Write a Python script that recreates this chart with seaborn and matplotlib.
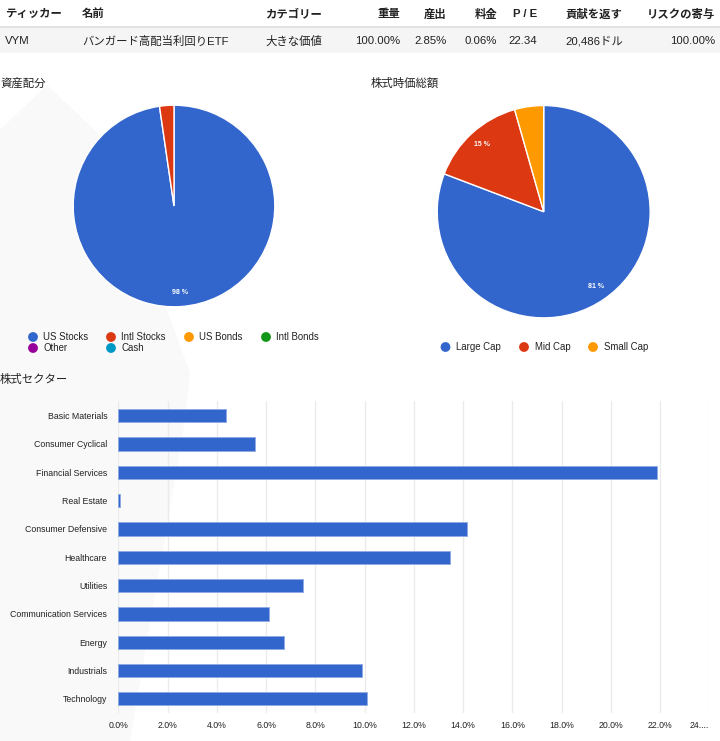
import matplotlib
matplotlib.use('Agg')
import matplotlib.pyplot as plt
import seaborn as sns
import pandas as pd
from matplotlib.patches import Polygon, Rectangle

W, H = 720, 741

# ---------------- data ----------------
table_headers = ['ティッカー', '名前', 'カテゴリー', '重量', '産出', '料金', 'P / E', '貢献を返す', 'リスクの寄与']
table_row = ['VYM', 'バンガード高配当利回りETF', '大きな価値', '100.00%', '2.85%', '0.06%', '22.34', '20,486ドル', '100.00%']

asset_title = '資産配分'
asset_labels = ['US Stocks', 'Intl Stocks', 'US Bonds', 'Intl Bonds', 'Other', 'Cash']
asset_values = [97.7, 2.3, 0.0, 0.0, 0.0, 0.0]
asset_colors = ['#3366cc', '#dc3912', '#ff9900', '#109618', '#990099', '#0099c6']

cap_title = '株式時価総額'
cap_labels = ['Large Cap', 'Mid Cap', 'Small Cap']
cap_values = [80.8, 14.8, 4.4]
cap_colors = ['#3366cc', '#dc3912', '#ff9900']

sector_title = '株式セクター'
sector_names = ['Basic Materials', 'Consumer Cyclical', 'Financial Services', 'Real Estate',
                'Consumer Defensive', 'Healthcare', 'Utilities', 'Communication Services',
                'Energy', 'Industrials', 'Technology']
sector_values = [4.39, 5.57, 21.87, 0.05, 14.15, 13.45, 7.52, 6.13, 6.71, 9.90, 10.09]
x_ticks = [0, 2, 4, 6, 8, 10, 12, 14, 16, 18, 20, 22, 24]
x_tick_labels = ['0.0%', '2.0%', '4.0%', '6.0%', '8.0%', '10.0%', '12.0%', '14.0%',
                 '16.0%', '18.0%', '20.0%', '22.0%', '24....']

# ---------------- style ----------------
sns.set_theme(style='white')
plt.rcParams['font.family'] = ['Liberation Sans', 'Noto Sans CJK JP', 'DejaVu Sans']
TXT = '#222222'


def rect(x0, y0, x1, y1):
    return [x0 / W, 1 - y1 / H, (x1 - x0) / W, (y1 - y0) / H]


fig = plt.figure(figsize=(W / 100, H / 100), dpi=100)
fig.patch.set_facecolor('white')

# overlay axes in pixel coordinates (background, table, titles, legends)
ov = fig.add_axes([0, 0, 1, 1], zorder=0)
ov.set_xlim(0, W)
ov.set_ylim(H, 0)
ov.axis('off')
ov.patch.set_alpha(0)

# faint watermark-like background shape
ov.add_patch(Polygon([(0, 130), (47, 85), (105, 140), (190, 373), (185, 420),
                      (130, 741), (0, 741)], closed=True, facecolor='#f9f9f9',
                     edgecolor='none', zorder=0))

# table
ov.add_patch(Rectangle((0, 26), W, 2, facecolor='#e3e3e3', edgecolor='none', zorder=1))
ov.add_patch(Rectangle((0, 28), W, 25, facecolor='#f5f5f5', edgecolor='none', zorder=1))
col_x = [5, 82, 265, 400, 447, 497, 537, 565, 715]
col_ha = ['left', 'left', 'left', 'right', 'right', 'right', 'right', 'left', 'right']
for hdr, val, x, ha in zip(table_headers, table_row, col_x, col_ha):
    ov.text(x, 14, hdr, ha=ha, va='center', fontsize=8.2, color='#222222',
            fontweight='bold', zorder=2)
    ov.text(x, 41, val, ha=ha, va='center', fontsize=8.2, color='#222222', zorder=2)

# titles
ov.text(0, 83, asset_title, ha='left', va='center', fontsize=8.2, color=TXT)
ov.text(371, 83, cap_title, ha='left', va='center', fontsize=8.2, color=TXT)
ov.text(0, 380, sector_title, ha='left', va='center', fontsize=8.2, color=TXT)

# legends
asset_leg_pos = [(33, 337), (111, 337), (189, 337), (266, 337), (33, 348), (111, 348)]
for lab, col, (x, y) in zip(asset_labels, asset_colors, asset_leg_pos):
    ov.scatter([x], [y], s=50, color=col, edgecolors='none', zorder=3)
    ov.text(x + 10, y, lab, ha='left', va='center', fontsize=6.9, color=TXT, zorder=3)

cap_leg_pos = [(445.5, 347), (524, 347), (593, 347)]
for lab, col, (x, y) in zip(cap_labels, cap_colors, cap_leg_pos):
    ov.scatter([x], [y], s=50, color=col, edgecolors='none', zorder=3)
    ov.text(x + 11, y, lab, ha='left', va='center', fontsize=6.9, color=TXT, zorder=3)


def pct_fmt(p):
    return f'{p:.0f} %' if p >= 8 else ''


def draw_pie(ax, values, colors):
    vals = [v for v in values if v > 0]
    cols = [c for v, c in zip(values, colors) if v > 0]
    ax.pie(vals, colors=cols, startangle=90, counterclock=False, radius=1,
           autopct=pct_fmt, pctdistance=0.86,
           wedgeprops=dict(edgecolor='white', linewidth=1.0),
           textprops=dict(color='white', fontsize=5, fontweight='bold'))
    ax.set_xlim(-1.005, 1.005)
    ax.set_ylim(-1.005, 1.005)
    ax.set_aspect('auto')
    ax.patch.set_alpha(0)
    ax.axis('off')


ax1 = fig.add_axes(rect(72.7, 104.7, 275.3, 307.3), zorder=2)
draw_pie(ax1, asset_values, asset_colors)

ax2 = fig.add_axes(rect(436.7, 105, 650.7, 318.4), zorder=2)
draw_pie(ax2, cap_values, cap_colors)

# bar chart
axb = fig.add_axes(rect(118.3, 401.5, 709.3, 713), zorder=2)
axb.patch.set_alpha(0)
df = pd.DataFrame({'sector': sector_names, 'value': sector_values})
sns.barplot(data=df, x='value', y='sector', orient='h', color='#3366cc', saturation=1,
            width=0.47, edgecolor='#8fa9e3', linewidth=0.6, ax=axb)
axb.set_xlim(0, 24)
axb.set_ylim(10.5, -0.5)
axb.set_xticks(x_ticks)
axb.set_xticklabels(x_tick_labels)
axb.set_xlabel('')
axb.set_ylabel('')
axb.set_axisbelow(True)
axb.grid(axis='x', color='#ebebeb', linewidth=1)
axb.grid(axis='y', visible=False)
for s in axb.spines.values():
    s.set_visible(False)
axb.tick_params(axis='x', length=0, pad=6, labelsize=6.3, labelcolor=TXT)
axb.tick_params(axis='y', length=0, pad=8, labelsize=6.3, labelcolor=TXT)
xl = axb.get_xticklabels()
xl[-1].set_ha('right')

fig.savefig('out.png', dpi=100)
